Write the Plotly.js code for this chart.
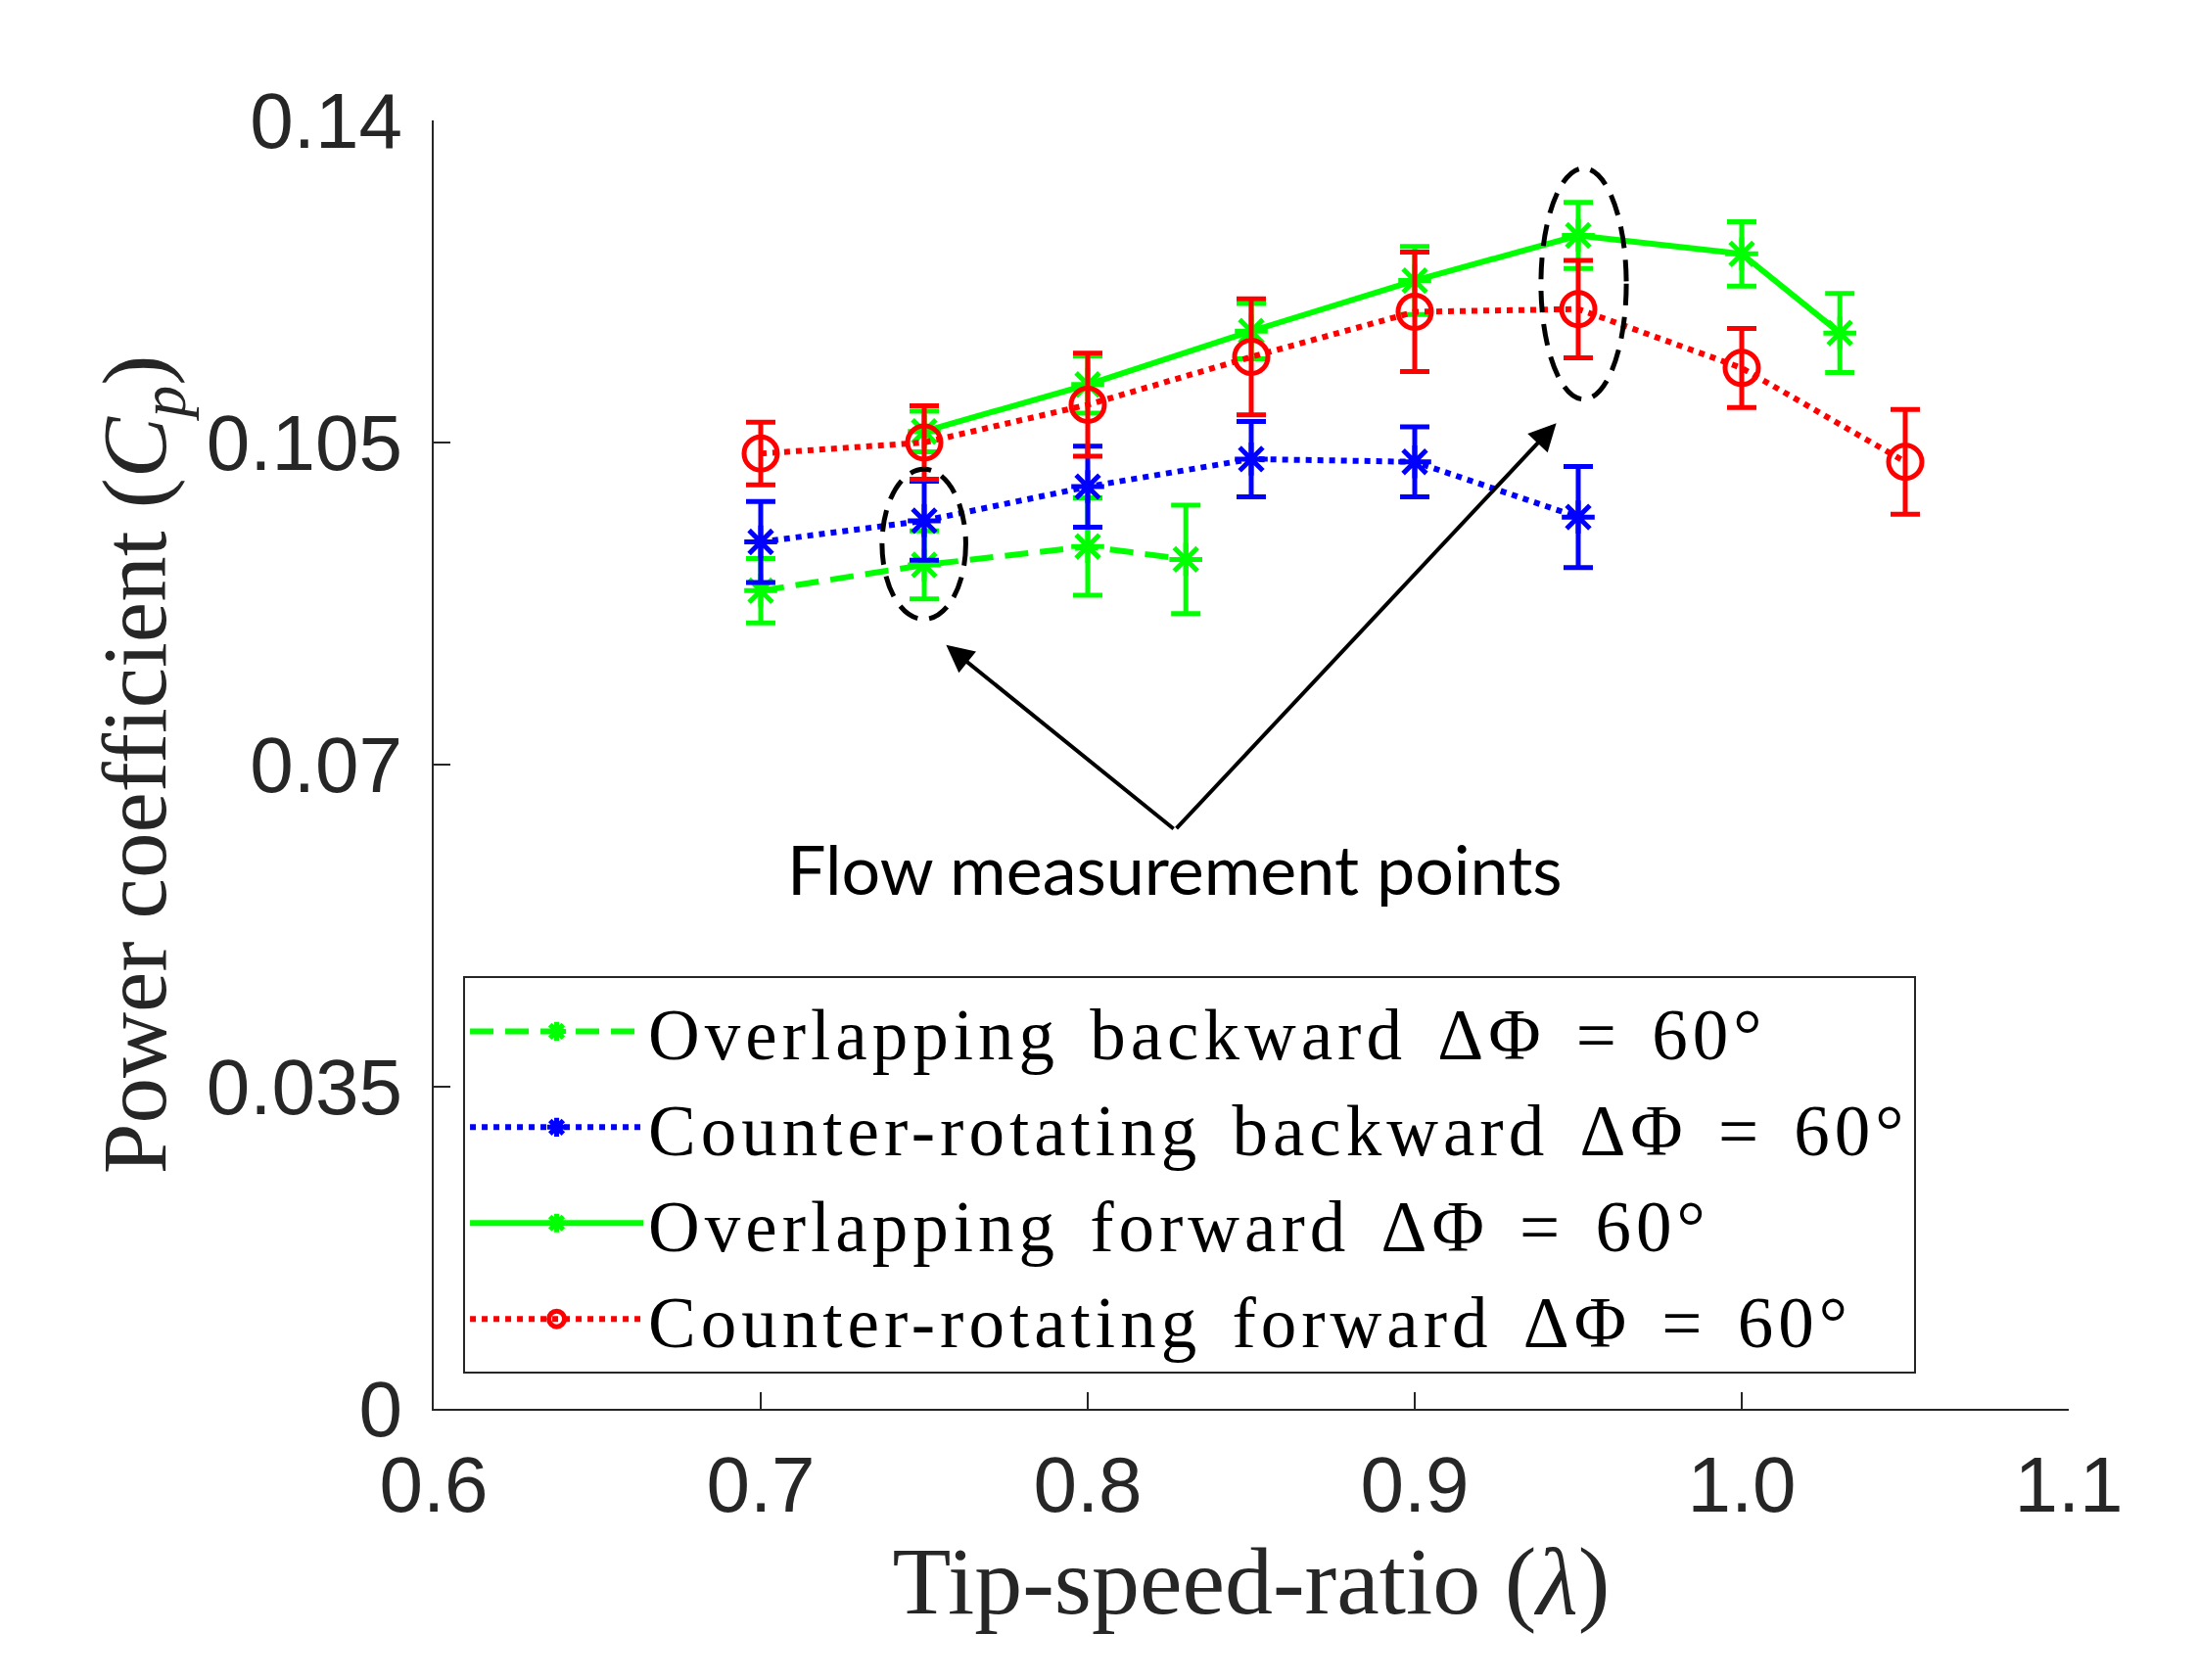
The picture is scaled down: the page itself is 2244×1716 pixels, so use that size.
<!DOCTYPE html>
<html>
<head>
<meta charset="utf-8">
<script src="https://cdn.plot.ly/plotly-3.0.1.min.js"></script>
<style>
  html, body { margin: 0; padding: 0; background: #fff; }
  #chart { width: 2244px; height: 1716px; }
  .legendtext { letter-spacing: 5px; word-spacing: 8px; }
</style>
</head>
<body>
<div id="chart"></div>
<script>
// tip-speed-ratio / power coefficient
const tsrOB = [0.70, 0.75, 0.80, 0.83];
const cpOB  = [0.0889, 0.0917, 0.0937, 0.0923];
const errOB = [0.0035, 0.0037, 0.0053, 0.0059];

const tsrCB = [0.70, 0.75, 0.80, 0.85, 0.90, 0.95];
const cpCB  = [0.0942, 0.0965, 0.1002, 0.1032, 0.1029, 0.0969];
const errCB = [0.0044, 0.0043, 0.0044, 0.0041, 0.0038, 0.0055];

const tsrOF = [0.75, 0.80, 0.85, 0.90, 0.95, 1.00, 1.03];
const cpOF  = [0.1062, 0.1113, 0.1171, 0.1226, 0.1275, 0.1255, 0.1169];
const errOF = [0.0022, 0.0031, 0.0030, 0.0037, 0.0036, 0.0035, 0.0043];

const tsrCF = [0.70, 0.75, 0.80, 0.85, 0.90, 0.95, 1.00, 1.05];
const cpCF  = [0.1038, 0.1050, 0.1091, 0.1143, 0.1192, 0.1195, 0.1131, 0.1029];
const errCF = [0.0034, 0.0040, 0.0056, 0.0063, 0.0065, 0.0053, 0.0043, 0.0057];

const seriesNames = [
    'Overlapping backward ΔΦ = 60°',
    'Counter-rotating backward ΔΦ = 60°',
    'Overlapping forward ΔΦ = 60°',
    'Counter-rotating forward ΔΦ = 60°'
];

const xTickVals = [0.6, 0.7, 0.8, 0.9, 1.0, 1.1];
const xTickText = ['0.6', '0.7', '0.8', '0.9', '1.0', '1.1'];
const yTickVals = [0, 0.035, 0.07, 0.105, 0.14];
const yTickText = ['0', '0.035', '0.07', '0.105', '0.14'];

const GREEN = '#00ff00', BLUE = '#0000ff', RED = '#ff0000';

function makeTrace(x, y, err, name, color, dash, symbol, msize) {
    return {
        x: x, y: y, name: name,
        type: 'scatter', mode: 'lines+markers',
        line: { color: color, width: 6, dash: dash },
        marker: { symbol: symbol, size: msize, color: color, line: { color: color, width: 5 } },
        error_y: { type: 'data', array: err, visible: true, color: color, thickness: 5, width: 15 }
    };
}

const data = [
    makeTrace(tsrOB, cpOB, errOB, seriesNames[0], GREEN, '24px,12px', 'asterisk-open', 28),
    makeTrace(tsrCB, cpCB, errCB, seriesNames[1], BLUE, 'dot', 'asterisk-open', 28),
    makeTrace(tsrOF, cpOF, errOF, seriesNames[2], GREEN, 'solid', 'asterisk-open', 28),
    makeTrace(tsrCF, cpCF, errCF, seriesNames[3], RED, 'dot', 'circle-open', 34)
];

const axisCol = '#262626';

const layout = {
    width: 2244, height: 1716,
    margin: { l: 443, r: 131, t: 123, b: 277 },
    paper_bgcolor: 'white', plot_bgcolor: 'white',
    showlegend: true,
    xaxis: {
        range: [0.6, 1.1],
        tickvals: xTickVals, ticktext: xTickText,
        ticks: 'inside', ticklen: 17, tickwidth: 2, tickcolor: axisCol,
        showline: true, linecolor: axisCol, linewidth: 2,
        showgrid: false, zeroline: false,
        ticklabelstandoff: 7,
        tickfont: { family: 'Liberation Sans, Arial, sans-serif', size: 80, color: axisCol },
        title: {
            text: 'Tip-speed-ratio (<i>λ</i>)',
            font: { family: 'Liberation Serif, serif', size: 98, color: axisCol },
            standoff: 2
        }
    },
    yaxis: {
        range: [0, 0.14],
        tickvals: yTickVals, ticktext: yTickText,
        ticks: 'inside', ticklen: 17, tickwidth: 2, tickcolor: axisCol,
        showline: true, linecolor: axisCol, linewidth: 2,
        showgrid: false, zeroline: false,
        ticklabelstandoff: 14,
        tickfont: { family: 'Liberation Sans, Arial, sans-serif', size: 80, color: axisCol },
        title: {
            text: 'Power coefficient (<i>C</i><sub><i>p</i></sub>)',
            font: { family: 'Liberation Serif, serif', size: 93, color: axisCol },
            standoff: 10
        }
    },
    legend: {
        x: 0.018, y: 0.3355, xanchor: 'left', yanchor: 'top',
        bgcolor: 'white', bordercolor: axisCol, borderwidth: 2,
        font: { family: 'Liberation Serif, serif', size: 73, color: 'black' },
        itemwidth: 177,
        tracegroupgap: 0
    },
    shapes: [
        { type: 'circle', xref: 'x', yref: 'y', x0: 0.7371, x1: 0.7627, y0: 0.0858, y1: 0.1021,
          line: { color: 'black', width: 5, dash: '22px,12px' } },
        { type: 'circle', xref: 'x', yref: 'y', x0: 0.9386, x1: 0.9647, y0: 0.1097, y1: 0.1348,
          line: { color: 'black', width: 5, dash: '22px,12px' } }
    ],
    annotations: [
        { x: 0.7567, y: 0.0830, ax: 0.8267, ay: 0.0629, xref: 'x', yref: 'y', axref: 'x', ayref: 'y',
          text: '', showarrow: true, arrowhead: 2, arrowsize: 1.4, arrowwidth: 4, arrowcolor: 'black' },
        { x: 0.9433, y: 0.1071, ax: 0.8267, ay: 0.0629, xref: 'x', yref: 'y', axref: 'x', ayref: 'y',
          text: '', showarrow: true, arrowhead: 2, arrowsize: 1.4, arrowwidth: 4, arrowcolor: 'black' },
        { x: 0.8267, y: 0.0587, xref: 'x', yref: 'y', showarrow: false,
          text: 'Flow measurement points',
          font: { family: 'Lato, Open Sans, sans-serif', size: 70, color: 'black' } }
    ]
};

Plotly.newPlot('chart', data, layout, { displayModeBar: false, responsive: false });
</script>
</body>
</html>
